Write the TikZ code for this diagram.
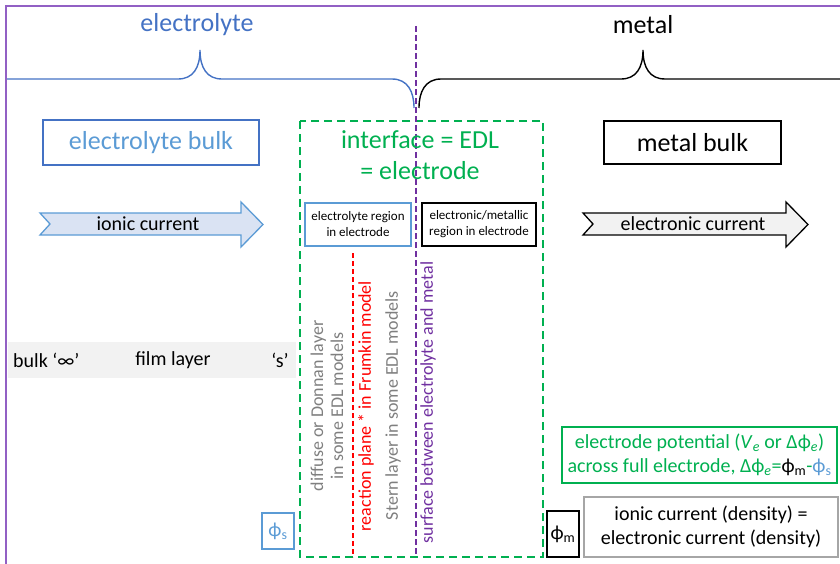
\documentclass[tikz,border=0pt]{standalone}
\usepackage{fontspec}
\setmainfont{Carlito}
\definecolor{frameP}{RGB}{146,96,196}
\definecolor{purpD}{RGB}{112,48,160}
\definecolor{blueL}{RGB}{68,114,196}
\definecolor{blueT}{RGB}{91,155,213}
\definecolor{greenE}{RGB}{0,176,80}
\definecolor{redR}{RGB}{255,0,0}
\definecolor{grayT}{RGB}{127,127,127}
\definecolor{grayB}{RGB}{166,166,166}
\definecolor{bandG}{RGB}{242,242,242}
\definecolor{arrowB}{RGB}{218,227,243}
\tikzset{
  head/.style={font=\fontsize{26}{31}\selectfont, inner sep=0pt, align=center},
  boxtxt/.style={draw, line width=1.3pt, inner sep=0pt, align=center},
  smallbox/.style={draw, line width=1.3pt, inner sep=0pt, align=center, minimum width=106pt, minimum height=43pt, font=\fontsize{13}{16}\selectfont},
  vtext/.style={rotate=90, inner sep=0pt, align=center, font=\fontsize{18}{20}\selectfont},
  mid/.style={font=\fontsize{20}{24}\selectfont, inner sep=0pt, align=center},
  bracepen/.style={line width=1.4pt},
}
\begin{document}
\begin{tikzpicture}[x=1pt,y=-1pt]
\useasboundingbox (0,0) rectangle (840,564);
% frame
\draw[frameP, line width=2pt] (6,600) -- (6,6) -- (850,6);
% top labels
\node[head, text=blueL] (lblE) at (197,25) {electrolyte};
\node[head] (lblM) at (643,25) {metal};
% braces
\draw[blueL, bracepen] (7,79) -- (178,79) .. controls (193,79) and (200,68) .. (200,50)
  .. controls (200,68) and (207,79) .. (222,79) -- (392,79) .. controls (408,79) and (414,92) .. (414,108);
\draw[black, bracepen] (419,108) .. controls (419,92) and (425,79) .. (441,79) -- (621,79)
  .. controls (636,79) and (643,68) .. (643,50) .. controls (643,68) and (650,79) .. (665,79) -- (845,79);
% green dashed electrode
\draw[greenE, line width=2.5pt, dash pattern=on 8pt off 5pt] (300,121) rectangle (543,557);
% purple dashed surface
\coordinate (sTop) at (416,26);
\coordinate (sBot) at (416,557);
\draw[purpD, line width=2pt, dash pattern=on 6pt off 3pt] (sTop) -- (sBot);
% red reaction plane
\coordinate (rTop) at (353,253);
\coordinate (rBot) at (353,557);
\draw[redR, line width=2pt, dash pattern=on 5pt off 3pt] (rTop) -- (rBot);
% bulk boxes
\node[boxtxt, draw=blueL, text=blueT, minimum width=216pt, minimum height=45pt, font=\fontsize{26}{31}\selectfont] (eBulk) at (151,142.5) {electrolyte bulk};
\node[boxtxt, draw=black, minimum width=177pt, minimum height=43pt, font=\fontsize{26}{31}\selectfont] (mBulk) at (692.5,142.5) {metal bulk};
% interface title
\node[head, text=greenE] (iface) at (420,155.5) {interface = EDL\\= electrode};
% small boxes
\node[smallbox, draw=blueT] (eReg) at (358,224.5) {electrolyte region\\in electrode};
\node[smallbox, draw=black, minimum width=114pt] (mReg) at (479,224.5) {electronic/metallic\\region in electrode};
% arrows
\draw[blueT, fill=arrowB, line width=1.3pt] (40,213) -- (241,213) -- (241,202) -- (263,224.5) -- (241,247) -- (241,235) -- (40,235) -- (50,224) -- cycle;
\node[mid] (ionic) at (148,224) {ionic current};
\draw[black, fill=bandG, line width=1.3pt] (583,213) -- (786,213) -- (786,202) -- (808,224.5) -- (786,247) -- (786,235) -- (583,235) -- (593,224) -- cycle;
\node[mid] (elec) at (693,224) {electronic current};
% band
\fill[bandG] (8,342) rectangle (296,378);
\node[mid, anchor=west] (bulkI) at (13,360) {bulk ‘∞’};
\node[mid] (film) at (173,360) {film layer};
\node[mid] (sPt) at (280,360) {‘s’};
% vertical texts
\node[vtext, text=grayT] (diff) at (327,406) {diffuse or Donnan layer\\in some EDL models};
\node[vtext, text=redR] (react) at (366,406) {reaction plane * in Frumkin model};
\node[vtext, text=grayT] (stern) at (393,405.5) {Stern layer in some EDL models};
\node[vtext, text=purpD] (surf) at (428,402.5) {surface between electrolyte and metal};
% phi boxes
\node[boxtxt, draw=blueT, text=blueT, minimum width=32pt, minimum height=36pt, font=\fontsize{20}{24}\selectfont] (phiS) at (278,531) {ϕ\textsubscript{s}};
\node[boxtxt, draw=black, minimum width=32pt, minimum height=46pt, font=\fontsize{20}{24}\selectfont] (phiM) at (563,534) {ϕ\textsubscript{m}};
% potential box
\node[boxtxt, draw=greenE, line width=2pt, text=greenE, minimum width=275pt, minimum height=56pt, font=\fontsize{20}{24}\selectfont] (pot) at (699.5,455)
  {electrode potential (\textit{V}\textsubscript{\textit{e}} or Δϕ\textsubscript{\textit{e}})\\across full electrode, Δϕ\textsubscript{\textit{e}}=\textcolor{black}{ϕ\textsubscript{m}}-\textcolor{blueT}{ϕ\textsubscript{s}}};
% current box
\node[boxtxt, draw=grayB, line width=2pt, minimum width=254pt, minimum height=60pt, font=\fontsize{20}{24}\selectfont] (curr) at (711,527)
  {ionic current (density) =\\electronic current (density)};
\end{tikzpicture}
\end{document}
